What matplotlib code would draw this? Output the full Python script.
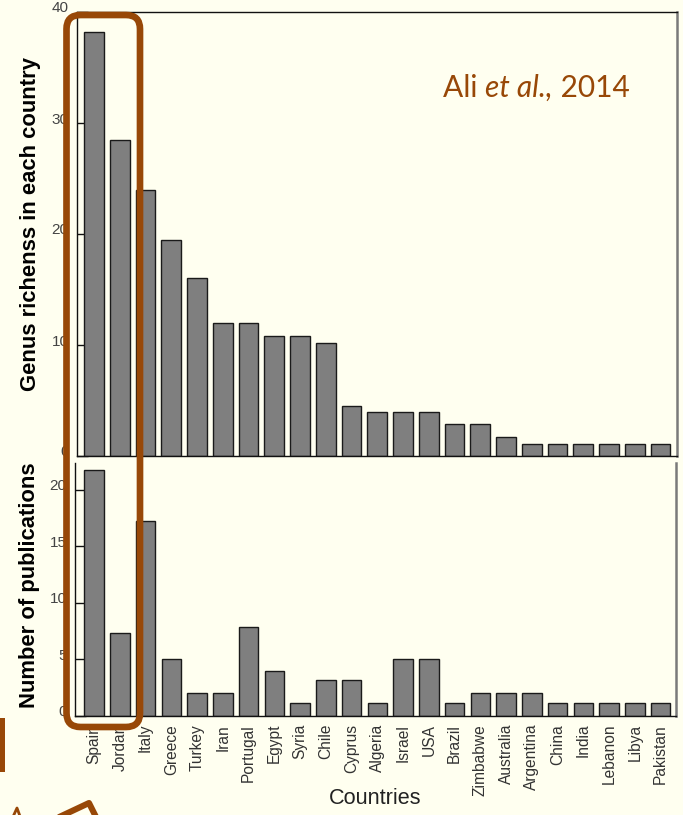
import numpy as np
import matplotlib
matplotlib.use("Agg")
import matplotlib.pyplot as plt
from matplotlib.patches import FancyBboxPatch, Rectangle
from matplotlib.lines import Line2D
from matplotlib.transforms import IdentityTransform, ScaledTranslation

# ---- data ----
countries = ["Spain", "Jordan", "Italy", "Greece", "Turkey", "Iran", "Portugal",
             "Egypt", "Syria", "Chile", "Cyprus", "Algeria", "Israel", "USA",
             "Brazil", "Zimbabwe", "Australia", "Argentina", "China", "India",
             "Lebanon", "Libya", "Pakistan"]
genus_richness = [38.2, 28.5, 24.0, 19.5, 16.0, 12.0, 12.0, 10.8, 10.8, 10.2,
                  4.5, 4.0, 4.0, 4.0, 2.9, 2.9, 1.7, 1.1, 1.1, 1.1, 1.1, 1.1, 1.1]
publications = [21.7, 7.3, 17.2, 5.0, 2.0, 2.0, 7.8, 3.9, 1.1, 3.1, 3.1, 1.1,
                5.0, 5.0, 1.1, 2.0, 2.0, 2.0, 1.1, 1.1, 1.1, 1.1, 1.1]
richness_ticks = [0, 10, 20, 30, 40]
publication_ticks = [0, 5, 10, 15, 20]
citation = ("Ali ", "et al.,", " 2014")

W, H = 683, 815
BG = "#FFFFF0"
BROWN = "#984807"
BAR = "#7F7F7F"

plt.rcParams["font.family"] = ["Liberation Sans", "DejaVu Sans"]

fig = plt.figure(figsize=(W / 100, H / 100), dpi=100, facecolor=BG)


def axes_rect(left, top, right, bottom):
    return [left / W, 1 - bottom / H, (right - left) / W, (bottom - top) / H]


ax1 = fig.add_axes(axes_rect(77, 12, 677, 456))
ax2 = fig.add_axes(axes_rect(75, 463, 676, 715.5))
x = np.arange(len(countries))

for ax, vals, ticks, ylim, xlim in [
        (ax1, genus_richness, richness_ticks, (0, 40), (-0.66, 22.64)),
        (ax2, publications, publication_ticks, (0, 22.35), (-0.74, 22.6))]:
    ax.set_facecolor(BG)
    ax.bar(x, vals, width=0.76, color=BAR, edgecolor="#1a1a1a", linewidth=1.0,
           zorder=2)
    ax.set_xlim(*xlim)
    ax.set_ylim(*ylim)
    ax.set_yticks(ticks)
    ax.tick_params(axis="y", direction="in", length=8, width=1,
                   color="#111111", labelsize=11, labelcolor="#444444", pad=6)
    for sp in ("left", "bottom", "top"):
        ax.spines[sp].set_color("#111111")
        ax.spines[sp].set_linewidth(1.0)
    ax.spines["right"].set_color("#7a7a7a")
    ax.spines["right"].set_linewidth(1.8)
    shift = ScaledTranslation(0, 5 / 100, fig.dpi_scale_trans)
    for lab in ax.get_yticklabels():
        lab.set_transform(lab.get_transform() + shift)

ax1.set_xticks([])
ax2.spines["top"].set_visible(False)
ax2.set_xticks(x)
ax2.set_xticklabels(countries, rotation=90, fontsize=11.2, color="#333333")
ax2.tick_params(axis="x", length=0, pad=6)

ax1.set_ylabel("Genus richenss in each country", fontsize=15.8,
               fontweight="bold", color="black", va="center")
ax1.yaxis.set_label_coords(-0.0767, 0.5236)
ax2.set_ylabel("Number of publications", fontsize=15.8, fontweight="bold",
               color="black", va="center")
ax2.yaxis.set_label_coords(-0.0749, 0.517)
ax2.set_xlabel("Countries", fontsize=15.6, color="#222222", va="center")
ax2.xaxis.set_label_coords(0.499, -0.327)

# citation in the upper right
cite_kw = dict(fontsize=21.5, color=BROWN, family=["Lato", "DejaVu Sans"],
               va="center", ha="left")
t1 = fig.text(443 / W, 1 - 88 / H, citation[0], **cite_kw)
fig.canvas.draw()
r = fig.canvas.get_renderer()
bb = t1.get_window_extent(r)
t2 = fig.text(bb.x1 / W, 1 - 88 / H, citation[1], style="italic", **cite_kw)
bb = t2.get_window_extent(r)
fig.text(bb.x1 / W, 1 - 88 / H, citation[2], **cite_kw)

# highlight box around the first two countries
ident = IdentityTransform()
box = FancyBboxPatch((66.5, H - 727), 73.5, 712,
                     boxstyle="round,pad=0,rounding_size=14",
                     fill=False, edgecolor=BROWN, linewidth=4.8,
                     transform=ident, zorder=10)
fig.add_artist(box)
fig.add_artist(Rectangle((0, H - 772), 4.5, 54, facecolor=BROWN,
                         edgecolor="none", transform=ident, zorder=10))
fig.add_artist(Line2D([55, 89, 97], [-4, 12, -4], color=BROWN, linewidth=4.4,
                      transform=ident, zorder=10))
fig.add_artist(Line2D([12, 17, 21], [-4, 7, -4], color=BROWN, linewidth=2.0,
                      transform=ident, zorder=10))

fig.savefig("out.png", dpi=100, facecolor=BG)
